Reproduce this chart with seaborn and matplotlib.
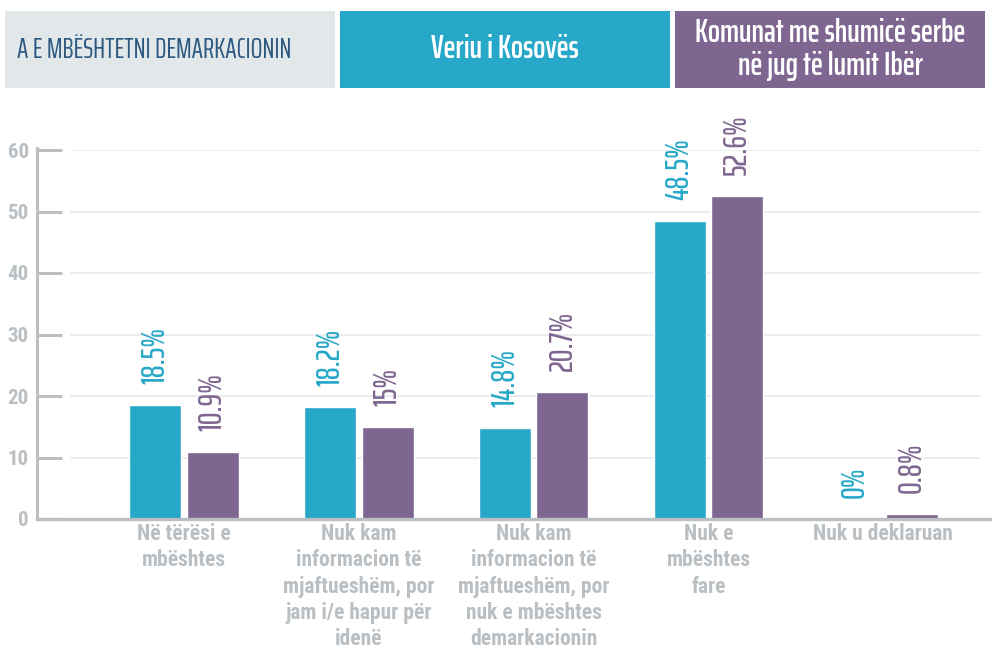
import pandas as pd
import matplotlib.pyplot as plt
import seaborn as sns
from matplotlib.patches import Rectangle

# Dati
categories = ['Në tërësi e\nmbështes',
              'Nuk kam\ninformacion të\nmjaftueshëm, por\njam i/e hapur për\nidenë',
              'Nuk kam\ninformacion të\nmjaftueshëm, por\nnuk e mbështes\ndemarkacionin',
              'Nuk e\nmbështes\nfare',
              'Nuk u deklaruan']
series = ['Veriu i Kosovës', 'Komunat me shumicë serbe\nnë jug të lumit Ibër']
veriu = [18.5, 18.2, 14.8, 48.5, 0]
jug = [10.9, 15, 20.7, 52.6, 0.8]
yticks = [0, 10, 20, 30, 40, 50, 60]
header_title = 'A E MBËSHTETNI DEMARKACIONIN'

teal = '#27a8c8'
purple = '#7e6690'
axis_grey = '#b9bfc3'
cond = 'Saira ExtraCondensed'

df = pd.DataFrame({
    'kategoria': categories * 2,
    'seria': [series[0]] * len(categories) + [series[1]] * len(categories),
    'vlera': veriu + jug,
})

sns.set_style('white')
plt.rcParams['font.family'] = ['Roboto Condensed', 'DejaVu Sans']

fig = plt.figure(figsize=(9.92, 6.51), dpi=100)
ax = fig.add_axes([37 / 992, 132 / 651, 955 / 992, 369 / 651])

sns.barplot(data=df, x='kategoria', y='vlera', hue='seria',
            palette=[teal, purple], width=0.658, gap=0.096,
            legend=False, ax=ax, saturation=1)

ax.set_xlim(-0.841, 4.622)
ax.set_ylim(0, 60)
ax.set_yticks(yticks)
ax.set_xlabel('')
ax.set_ylabel('')

# griglia leggera
for t in yticks[1:]:
    ax.axhline(t, xmin=0.0356, xmax=0.987, color='#e6e9eb', lw=1.2, zorder=0)

for s in ['top', 'right']:
    ax.spines[s].set_visible(False)
ax.spines['left'].set_color(axis_grey)
ax.spines['left'].set_linewidth(2.2)
ax.spines['left'].set_bounds(0, 60.3)
ax.spines['bottom'].set_color(axis_grey)
ax.spines['bottom'].set_linewidth(2.4)

ax.tick_params(axis='y', left=True, direction='in', length=18, width=2.2, color=axis_grey,
               labelcolor=axis_grey, labelsize=15, pad=6)
ax.tick_params(axis='x', bottom=False, length=0, labelcolor=axis_grey, labelsize=15.5, pad=3)
for lab in ax.get_yticklabels():
    lab.set_fontweight('bold')
for lab in ax.get_xticklabels():
    lab.set_fontweight('bold')
    lab.set_linespacing(1.25)
    lab.set_verticalalignment('top')

# etichette dei valori
for cont, vals, col in zip(ax.containers, [veriu, jug], [teal, purple]):
    ax.bar_label(cont, labels=[f'{v:g}%' for v in vals], rotation=90, padding=15,
                 color=col, fontsize=23, family=cond, fontweight=500)

# intestazione a riquadri
boxes = [(5, 335, '#e2e7ea'), (340, 670, teal), (675, 985, purple)]
for x0, x1, c in boxes:
    fig.patches.append(Rectangle((x0 / 992, (651 - 88) / 651), (x1 - x0) / 992, 77 / 651,
                                 transform=fig.transFigure, facecolor=c, edgecolor='none'))

ymid = (651 - 49.5) / 651
fig.text(17 / 992, ymid, header_title, ha='left', va='center', color='#2e5a82',
         fontsize=20, family=cond, fontweight=400)
fig.text(505 / 992, ymid, series[0], ha='center', va='center', color='white',
         fontsize=23, family=cond, fontweight=600)
fig.text(830 / 992, ymid, series[1], ha='center', va='center', color='white',
         fontsize=23, family=cond, fontweight=600, linespacing=1.15)

fig.savefig('out.png', dpi=100)
